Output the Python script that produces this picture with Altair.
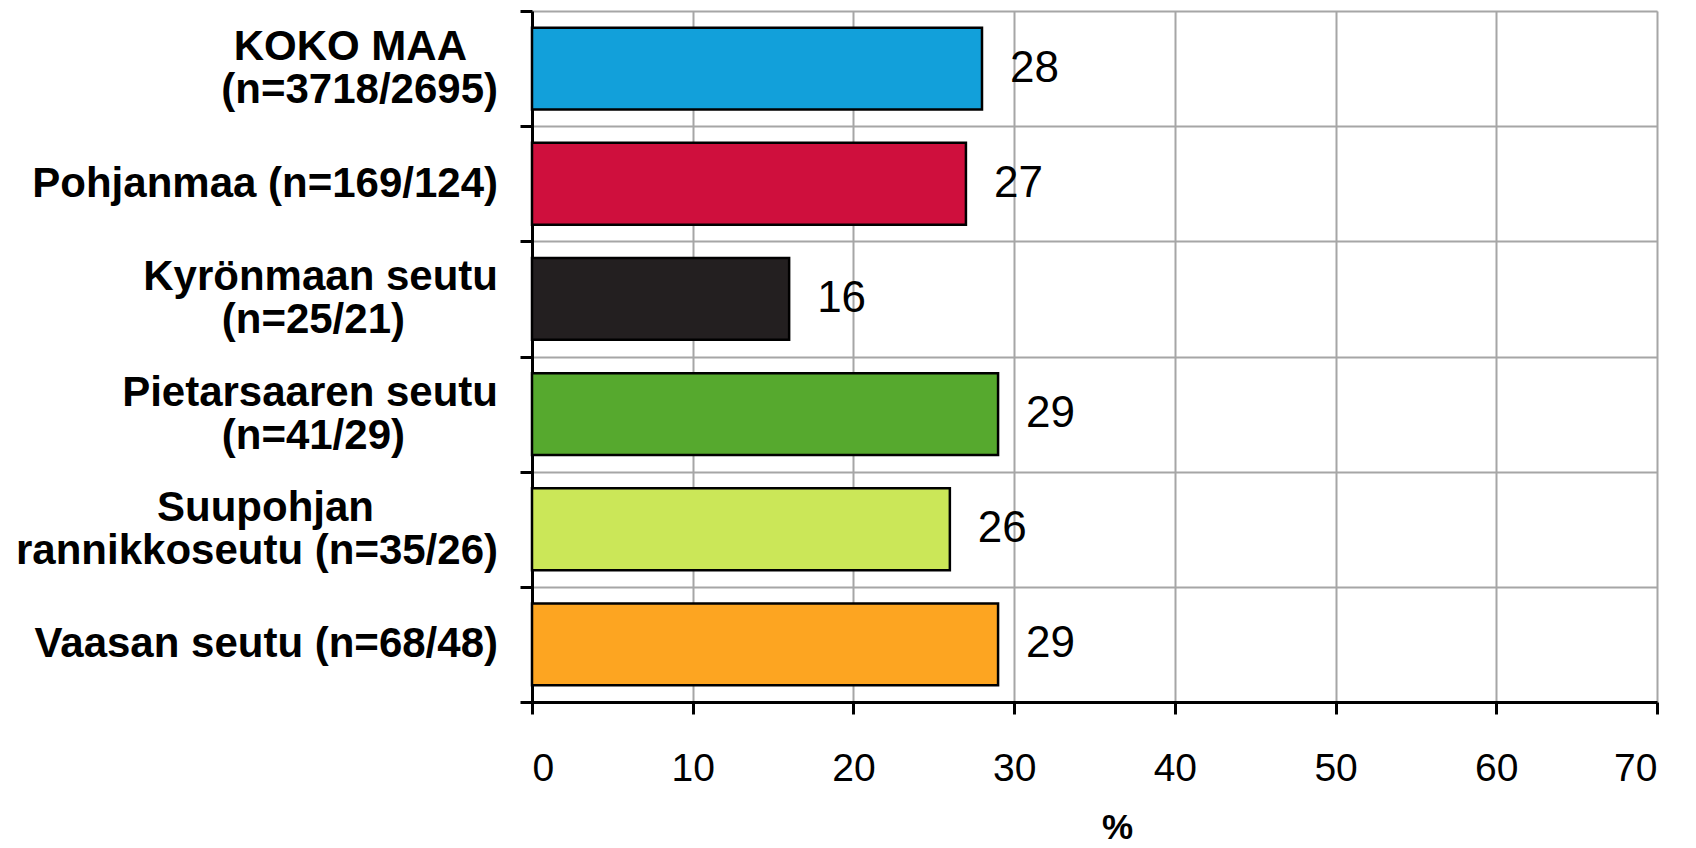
import altair as alt
import pandas as pd

# --- data -------------------------------------------------------------
line1 = ["KOKO MAA", "Pohjanmaa (n=169/124)", "Kyrönmaan seutu", "Pietarsaaren seutu",
         "Suupohjan", "Vaasan seutu (n=68/48)"]
line2 = ["(n=3718/2695)", "", "(n=25/21)", "(n=41/29)", "rannikkoseutu (n=35/26)", ""]
values = [28, 27, 16, 29, 26, 29]
palette = ["#12A0DA", "#CF0F3D", "#231F20", "#56A92E", "#CBE758", "#FDA521"]
xticks = [0, 10, 20, 30, 40, 50, 60, 70]

# invisible trailing pad (braille blank) so the shorter line of a label looks centred
BLANK = "\u2800"
pad1 = [1, 0, 0, 0, 4, 0]
pad2 = [0, 0, 3, 3, 0, 0]

keys = [f"{a} {b}".strip() for a, b in zip(line1, line2)]
df = pd.DataFrame({
    "key": keys,
    "t1": [a + BLANK * p for a, p in zip(line1, pad1)],
    "t2": [(b + BLANK * p) if b else "" for b, p in zip(line2, pad2)],
    "value": values,
})

FONT = "Liberation Sans"
LAB = dict(align="right", baseline="middle", font=FONT, fontWeight="bold",
           fontSize=42, color="black")

yscale = alt.Scale(paddingInner=0, paddingOuter=0)

y = alt.Y(
    "key:N",
    sort=None,
    scale=yscale,
    axis=alt.Axis(
        title=None,
        tickBand="extent",
        labels=False,
        tickSize=12,
        tickWidth=3,
        tickColor="black",
        domainColor="black",
        domainWidth=3,
        grid=True,
        gridColor="#A6A6A6",
        gridWidth=2,
    ),
)

x = alt.X(
    "value:Q",
    scale=alt.Scale(domain=[0, 70], nice=False),
    axis=alt.Axis(
        values=xticks,
        title="%",
        titleFont=FONT,
        titleFontWeight="bold",
        titleFontSize=35,
        titleColor="black",
        titleX=585,
        titleY=125,
        titleBaseline="middle",
        labelFont=FONT,
        labelFontSize=39,
        labelColor="black",
        labelPadding=35,
        tickSize=12,
        tickWidth=3,
        tickColor="black",
        domainColor="black",
        domainWidth=3,
        grid=True,
        gridColor="#A6A6A6",
        gridWidth=2,
    ),
)

base = alt.Chart(df)

bars = base.mark_bar(
    height={"band": 0.71}, stroke="black", strokeWidth=2.5
).encode(
    x=x,
    y=y,
    color=alt.Color("key:N", scale=alt.Scale(domain=keys, range=palette), legend=None),
)

text = base.mark_text(
    align="left", baseline="middle", dx=28, fontSize=44, font=FONT, color="black"
).encode(
    x=alt.X("value:Q"),
    y=alt.Y("key:N", sort=None),
    text=alt.Text("value:Q"),
)

ylab_single = base.transform_filter("datum.t2 == ''").mark_text(**LAB, dx=-34).encode(
    x=alt.value(0), y=alt.Y("key:N", sort=None), text="t1:N")
ylab_top = base.transform_filter("datum.t2 != ''").mark_text(**LAB, dx=-34, dy=-21.5).encode(
    x=alt.value(0), y=alt.Y("key:N", sort=None), text="t1:N")
ylab_bot = base.transform_filter("datum.t2 != ''").mark_text(**LAB, dx=-34, dy=21.5).encode(
    x=alt.value(0), y=alt.Y("key:N", sort=None), text="t2:N")

chart = (
    alt.layer(bars, text, ylab_single, ylab_top, ylab_bot)
    .properties(
        width=1125,
        height=691,
        autosize=alt.AutoSizeParams(type="none"),
        padding={"left": 524, "top": 3, "right": 30, "bottom": 145},
    )
    .configure_view(stroke=None)
    .configure(background="white")
)

chart.save("out.html", embed_options={"renderer": "svg", "actions": False})
